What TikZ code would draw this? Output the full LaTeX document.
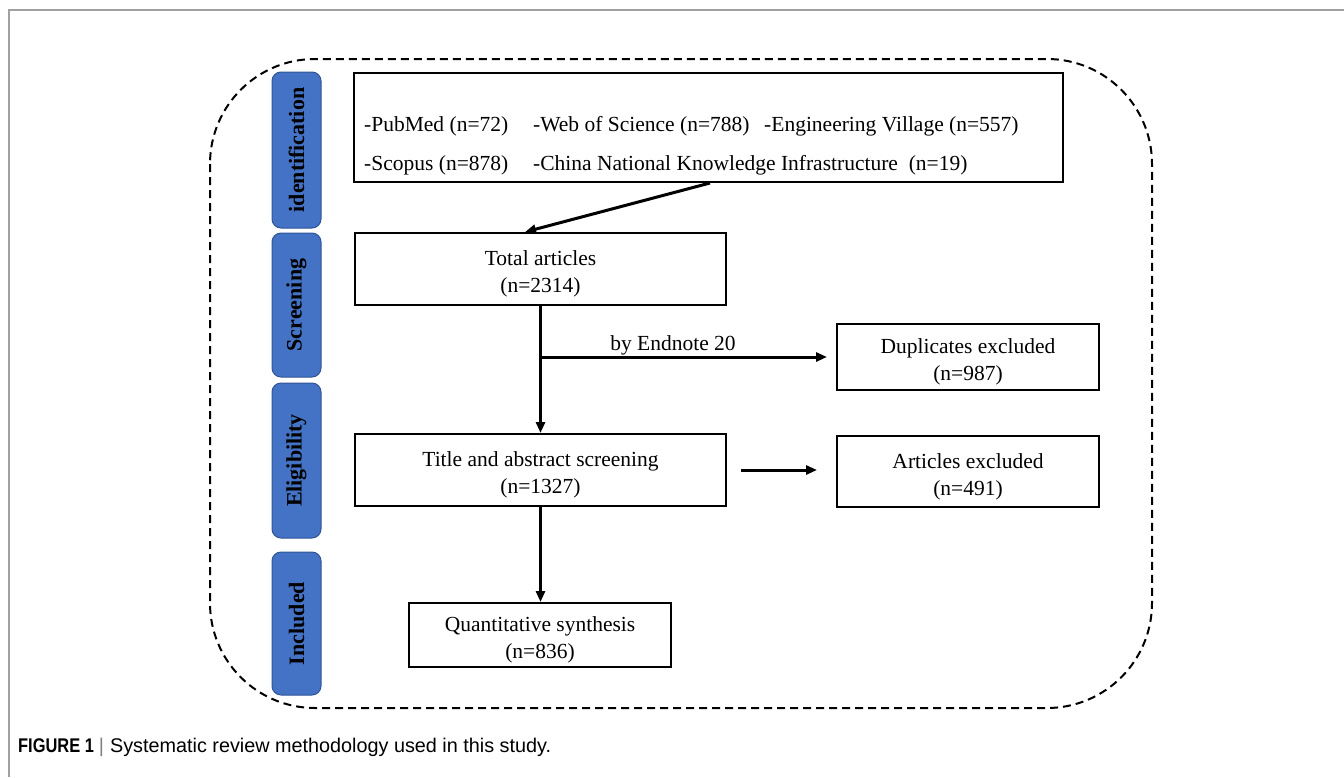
\documentclass[tikz,border=0pt]{standalone}
\usepackage{fontspec}
\setmainfont{Liberation Serif}
\newfontfamily\capfont{Liberation Sans}
\newfontfamily\capboldfont[FakeStretch=0.83]{Liberation Sans}
\usetikzlibrary{arrows.meta,calc}
\definecolor{tabblue}{HTML}{4472C4}
\definecolor{tabedge}{HTML}{2F5597}
\definecolor{framegray}{HTML}{A0A0A0}
\newcommand{\twoline}[2]{\raisebox{-5pt}[\height][\depth]{\begin{tabular}{@{}c@{}}#1\\#2\end{tabular}}}
\begin{document}
\begin{tikzpicture}[x=1pt,y=-1pt,
  box/.style={draw=black, line width=2pt, rectangle, inner sep=0pt, align=center,
    font=\fontsize{21.5}{27}\selectfont},
  txt/.style={inner sep=0pt, font=\fontsize{21.5}{27}\selectfont},
  tab/.style={draw=tabedge, line width=1pt, fill=tabblue, rounded corners=9pt,
    minimum height=49pt, inner sep=0pt, rotate=90, font=\fontsize{22}{26}\selectfont\bfseries},
  arr/.style={line width=3pt, -{Triangle[length=11pt,width=9pt]}},
  dashborder/.style={line width=2pt, dash pattern=on 8pt off 5pt, rounded corners=105pt},
  framestyle/.style={draw=framegray, line width=1.5pt}]
\useasboundingbox (0,0) rectangle (1344,777);
\fill[white] (0,0) rectangle (1344,777);
% outer frame
\draw[framestyle] (9,777) -- (9,10) -- (1344,10);
% dashed border
\draw[dashborder] (210,59) rectangle (1152,708);
% stage tabs
\node[tab, minimum width=156pt] (t1) at (296.5,150) {identification};
\node[tab, minimum width=144pt] (t2) at (296.5,305) {Screening};
\node[tab, minimum width=155pt] (t3) at (296.5,460.5) {Eligibility};
\node[tab, minimum width=143pt] (t4) at (296.5,623.5) {Included};
% boxes
\node[box, minimum width=709pt, minimum height=109pt] (src) at (708.5,127.5) {};
\node[txt, anchor=base west] (p1) at (364,131) {-PubMed (n=72)};
\node[txt, anchor=base west] (p2) at (533,131) {-Web of Science (n=788)};
\node[txt, anchor=base west] (p3) at (764,131) {-Engineering Village (n=557)};
\node[txt, anchor=base west] (p4) at (364,170) {-Scopus (n=878)};
\node[txt, anchor=base west] (p5) at (533,170) {-China National Knowledge Infrastructure\ \ (n=19)};
\node[box, minimum width=371pt, minimum height=72pt] (total) at (540.5,269) {\twoline{Total articles}{(n=2314)}};
\node[box, minimum width=262pt, minimum height=66pt] (dup) at (968,357) {\twoline{Duplicates excluded}{(n=987)}};
\node[box, minimum width=371pt, minimum height=72pt] (title) at (540.5,470) {\twoline{Title and abstract screening}{(n=1327)}};
\node[box, minimum width=262pt, minimum height=71pt] (art) at (968,471.5) {\twoline{Articles excluded}{(n=491)}};
\node[box, minimum width=262pt, minimum height=64pt] (quant) at (540,635) {\twoline{Quantitative synthesis}{(n=836)}};
% connectors
\draw[arr] ([xshift=1.5pt]src.south) -- ([xshift=-15.5pt]total.north);
\draw[arr] (total.south) -- (title.north);
\draw[arr] (total.south |- dup.west) -- ([xshift=-9pt]dup.west);
\node[txt, anchor=base] (lbl) at (673,350) {by Endnote 20};
\draw[arr] ([xshift=14pt]title.east) -- ([xshift=-19pt]title.east -| art.west);
\draw[arr] (title.south) -- (title.south |- quant.north);
% caption
\node[anchor=base west, inner sep=0pt, font=\fontsize{19.8}{24}\selectfont] (cap) at (18,752)
  {{\capboldfont\bfseries FIGURE 1}\hspace{5pt}{\capfont\color{gray}|}\hspace{6pt}{\capfont Systematic review methodology used in this study.}};
\end{tikzpicture}
\end{document}
